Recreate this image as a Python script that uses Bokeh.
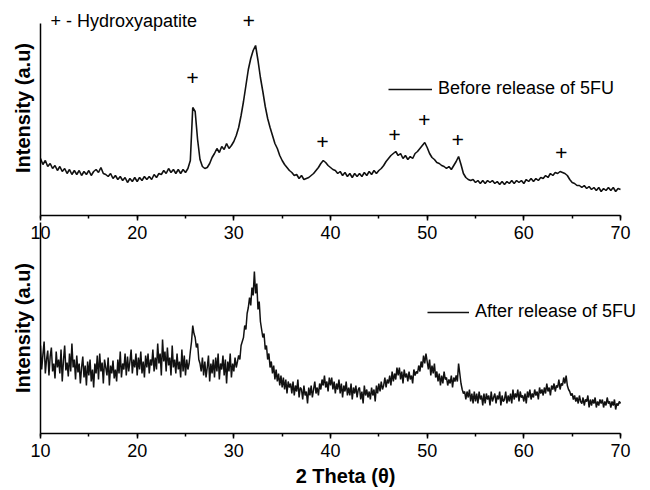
from bokeh.plotting import figure
from bokeh.layouts import column
from bokeh.models import (Range1d, SingleIntervalTicker, Legend, LegendItem,
                          Label, LabelSet, ColumnDataSource)
from bokeh.embed import file_html
from bokeh.resources import INLINE

FONT = "Liberation Sans"

# ---------------- data ----------------
# top pattern: 0.25 deg steps, 8 values per 2 deg
before_release = [
    57, 51, 55, 49, 52, 47, 50, 45,      # 10 - 11.75
    49, 44, 47, 42, 46, 41, 45, 41,      # 12 - 13.75
    45, 40, 44, 41, 45, 40, 44, 46,      # 14 - 15.75
    43, 48, 42, 41, 39, 42, 37, 40,      # 16 - 17.75
    36, 39, 35, 38, 33, 37, 34, 38,      # 18 - 19.75
    34, 38, 35, 39, 36, 39, 36, 41,      # 20 - 21.75
    38, 42, 41, 45, 42, 47, 43, 46,      # 22 - 23.75
    42, 46, 42, 46, 43, 47, 55, 108,     # 24 - 25.75
    104, 76, 56, 49, 47, 48, 52, 58,     # 26 - 27.75
    62, 67, 63, 69, 66, 72, 67, 70,      # 28 - 29.75
    74, 80, 88, 100, 114, 130, 146, 157, # 30 - 31.75
    165, 170, 155, 138, 124, 109, 97, 88,# 32 - 33.75
    80, 72, 67, 60, 55, 51, 48, 45,      # 34 - 35.75
    43, 40, 41, 37, 40, 36, 37, 38,      # 36 - 37.75
    40, 42, 45, 48, 52, 55, 53, 50,      # 38 - 39.75
    48, 46, 45, 42, 44, 40, 43, 39,      # 40 - 41.75
    42, 38, 42, 39, 42, 39, 43, 40,      # 42 - 43.75
    44, 41, 45, 42, 45, 47, 50, 54,      # 44 - 45.75
    57, 60, 62, 64, 60, 62, 57, 60,      # 46 - 47.75
    56, 59, 57, 62, 64, 67, 70, 73,      # 48 - 49.75
    68, 62, 58, 56, 53, 52, 50, 49,      # 50 - 51.75
    47, 49, 46, 50, 54, 59, 51, 42,      # 52 - 53.75
    38, 36, 35, 36, 33, 35, 32, 35,      # 54 - 55.75
    32, 35, 33, 35, 32, 34, 31, 34,      # 56 - 57.75
    31, 34, 32, 35, 32, 35, 33, 35,      # 58 - 59.75
    32, 36, 34, 37, 34, 37, 35, 38,      # 60 - 61.75
    37, 40, 38, 42, 40, 43, 42, 44,      # 62 - 63.75
    43, 42, 40, 36, 33, 32, 30, 30,      # 64 - 65.75
    28, 30, 27, 29, 26, 28, 25, 28,      # 66 - 67.75
    24, 27, 25, 28, 25, 28, 24, 27,      # 68 - 69.75
    26,                                  # 70
]
before_step = 0.25

# bottom pattern: 0.125 deg steps, 8 values per degree
after_release = [
    88, 64, 79, 92, 60, 74, 83, 58,      # 10
    77, 86, 62, 70, 55, 82, 66, 74,      # 11
    60, 84, 52, 73, 88, 63, 71, 57,      # 12
    80, 62, 90, 66, 74, 54, 78, 61,      # 13
    70, 50, 66, 77, 56, 68, 48, 72,      # 14
    58, 74, 52, 64, 46, 70, 60, 78,      # 15
    54, 80, 62, 71, 50, 74, 66, 58,      # 16
    76, 48, 68, 60, 73, 55, 64, 52,      # 17
    74, 60, 82, 56, 70, 64, 80, 58,      # 18
    77, 62, 72, 84, 60, 74, 66, 80,      # 19
    58, 76, 64, 82, 60, 72, 56, 78,      # 20
    66, 80, 60, 74, 68, 84, 62, 76,      # 21
    64, 90, 70, 80, 58, 94, 72, 82,      # 22
    62, 86, 68, 76, 58, 88, 66, 74,      # 23
    60, 80, 64, 72, 56, 84, 62, 78,      # 24
    58, 74, 64, 70, 82, 92, 108, 100,    # 25
    96, 86, 90, 74, 70, 62, 76, 58,      # 26
    72, 56, 66, 78, 52, 70, 60, 74,      # 27
    56, 76, 62, 80, 54, 70, 64, 78,      # 28
    58, 74, 50, 72, 62, 80, 56, 70,      # 29
    62, 76, 66, 72, 78, 74, 88, 92,      # 30
    96, 108, 104, 120, 126, 136, 128, 146,   # 31
    138, 162, 140, 150, 124, 132, 112, 104,  # 32
    96, 100, 84, 88, 74, 80, 66, 72,     # 33
    60, 68, 54, 64, 52, 60, 48, 58,      # 34
    46, 56, 44, 54, 40, 52, 46, 50,      # 35
    40, 52, 38, 48, 42, 54, 36, 46,      # 36
    44, 34, 48, 38, 42, 30, 46, 38,      # 37
    48, 36, 44, 52, 40, 46, 38, 50,      # 38
    44, 54, 48, 58, 46, 52, 42, 56,      # 39
    48, 56, 44, 52, 40, 50, 44, 54,      # 40
    40, 50, 36, 48, 42, 52, 38, 46,      # 41
    38, 50, 34, 46, 40, 48, 36, 44,      # 42
    46, 34, 42, 30, 48, 38, 44, 36,      # 43
    42, 34, 46, 38, 44, 32, 48, 40,      # 44
    50, 42, 52, 44, 48, 56, 46, 54,      # 45
    50, 58, 48, 62, 52, 60, 54, 66,      # 46
    58, 66, 54, 62, 50, 64, 56, 60,      # 47
    52, 62, 54, 58, 50, 64, 58, 62,      # 48
    60, 68, 62, 72, 66, 78, 70, 80,      # 49
    72, 64, 74, 58, 68, 60, 70, 56,      # 50
    62, 52, 60, 48, 58, 50, 62, 54,      # 51
    56, 48, 54, 50, 58, 46, 56, 52,      # 52
    58, 52, 70, 60, 50, 44, 40, 42,      # 53
    34, 42, 36, 44, 32, 40, 30, 42,      # 54
    32, 40, 30, 42, 34, 38, 28, 40,      # 55
    30, 40, 34, 38, 28, 42, 32, 36,      # 56
    40, 30, 38, 34, 42, 28, 38, 32,      # 57
    34, 42, 30, 38, 32, 40, 30, 44,      # 58
    34, 40, 36, 44, 32, 42, 36, 38,      # 59
    32, 40, 30, 42, 36, 44, 34, 40,      # 60
    36, 44, 38, 42, 34, 46, 40, 44,      # 61
    38, 46, 40, 50, 42, 46, 38, 48,      # 62
    44, 50, 42, 48, 46, 54, 44, 50,      # 63
    48, 56, 50, 58, 48, 44, 42, 38,      # 64
    40, 34, 38, 32, 36, 30, 38, 32,      # 65
    30, 36, 28, 34, 32, 38, 26, 34,      # 66
    28, 34, 30, 36, 26, 32, 28, 34,      # 67
    30, 34, 26, 32, 28, 36, 30, 32,      # 68
    26, 32, 28, 34, 24, 30, 28, 32,      # 69
    30,                                  # 70
]
after_step = 0.125

X_START = 10.0
theta_before = [X_START + before_step * i for i in range(len(before_release))]
theta_after = [X_START + after_step * i for i in range(len(after_release))]

# Hydroxyapatite reflections marked with "+"
hap_peaks_x = [25.72, 31.55, 39.17, 46.62, 49.69, 53.17, 63.86]
hap_peaks_y = [137.7, 194.3, 74.0, 80.7, 96.0, 75.3, 63.0]

x_ticks_interval = 10
series_labels = ["Before release of 5FU", "After release of 5FU"]
x_title = "2 Theta (\u03b8)"
y_title = "Intensity (a.u)"
hap_note = "+ - Hydroxyapatite"

X_MIN, X_MAX = 10, 70
X_VIEW_END = 70 + 30 / (580 / 60)   # room on the right for the legend text

OVERLAP = 24   # the lower panel's y axis reaches up between the upper tick labels


def make_fig(height, border_top, border_bottom, y_end, y_axis_top, transparent=False):
    p = figure(width=650, height=height, output_backend="svg", toolbar_location=None,
               x_range=Range1d(X_MIN, X_VIEW_END), y_range=Range1d(0, y_end),
               min_border_left=40, min_border_right=0,
               min_border_top=border_top, min_border_bottom=border_bottom,
               background_fill_color="white", border_fill_color="white")
    if transparent:
        p.background_fill_alpha = 0
        p.border_fill_alpha = 0
    p.grid.visible = False
    p.outline_line_color = None
    # x axis
    xa = p.xaxis[0]
    xa.ticker = SingleIntervalTicker(interval=x_ticks_interval, num_minor_ticks=2)
    xa.bounds = (X_MIN, X_MAX)
    xa.axis_line_color = "black"
    xa.axis_line_width = 1.5
    xa.major_tick_line_color = "black"
    xa.major_tick_line_width = 1.5
    xa.major_tick_in = 0
    xa.major_tick_out = 5
    xa.minor_tick_line_color = "black"
    xa.minor_tick_line_width = 1.5
    xa.minor_tick_in = 0
    xa.minor_tick_out = 3
    xa.major_label_text_font = FONT
    xa.major_label_text_font_size = "18px"
    xa.major_label_text_color = "black"
    xa.major_label_standoff = 5
    # y axis (no ticks, no labels)
    ya = p.yaxis[0]
    ya.ticker = []
    ya.bounds = (0, y_axis_top)
    ya.axis_line_color = "black"
    ya.axis_line_width = 1.5
    ya.major_tick_line_color = None
    ya.minor_tick_line_color = None
    ya.major_label_standoff = 0
    ya.axis_label = y_title
    ya.axis_label_text_font = FONT
    ya.axis_label_text_font_size = "20px"
    ya.axis_label_text_font_style = "bold"
    ya.axis_label_text_color = "black"
    ya.axis_label_standoff = 7
    return p


# ---------------- top panel ----------------
top = make_fig(246, 0, 31, 215, 192)
r_top = top.line(theta_before, before_release, line_color="#111111", line_width=1.6)
leg_top = Legend(items=[LegendItem(label=series_labels[0], renderers=[r_top])],
                 location=(348, 116), padding=0, margin=0, spacing=0,
                 glyph_width=44, label_standoff=6,
                 border_line_color=None, background_fill_alpha=0,
                 label_text_font=FONT, label_text_font_size="18px",
                 label_text_color="black")
top.add_layout(leg_top)

src_plus = ColumnDataSource(dict(x=hap_peaks_x, y=hap_peaks_y,
                                 t=["+"] * len(hap_peaks_x)))
top.add_layout(LabelSet(x="x", y="y", text="t", source=src_plus,
                        text_font=FONT, text_font_size="22px",
                        text_font_style="bold", text_align="center",
                        text_baseline="middle", text_color="black"))
top.add_layout(Label(x=11.03, y=195, text=hap_note, text_font=FONT,
                     text_font_size="18px", text_align="left",
                     text_baseline="middle", text_color="black"))

# ---------------- bottom panel ----------------
bottom = make_fig(244 + OVERLAP, 0, 57, 187 + OVERLAP, 187 + OVERLAP, transparent=True)
bottom.styles = {"margin-top": f"-{OVERLAP}px"}
bottom.xaxis[0].axis_label = x_title
bottom.xaxis[0].axis_label_text_font = FONT
bottom.xaxis[0].axis_label_text_font_size = "20px"
bottom.xaxis[0].axis_label_text_font_style = "bold"
bottom.xaxis[0].axis_label_text_color = "black"
bottom.xaxis[0].axis_label_standoff = 5
r_bot = bottom.line(theta_after, after_release, line_color="#111111", line_width=1.5)
leg_bot = Legend(items=[LegendItem(label=series_labels[1], renderers=[r_bot])],
                 location=(387, 111), padding=0, margin=0, spacing=0,
                 glyph_width=42, label_standoff=6,
                 border_line_color=None, background_fill_alpha=0,
                 label_text_font=FONT, label_text_font_size="18px",
                 label_text_color="black")
bottom.add_layout(leg_bot)

layout = column(top, bottom, spacing=0)
open("out.html", "w").write(file_html(layout, INLINE))
